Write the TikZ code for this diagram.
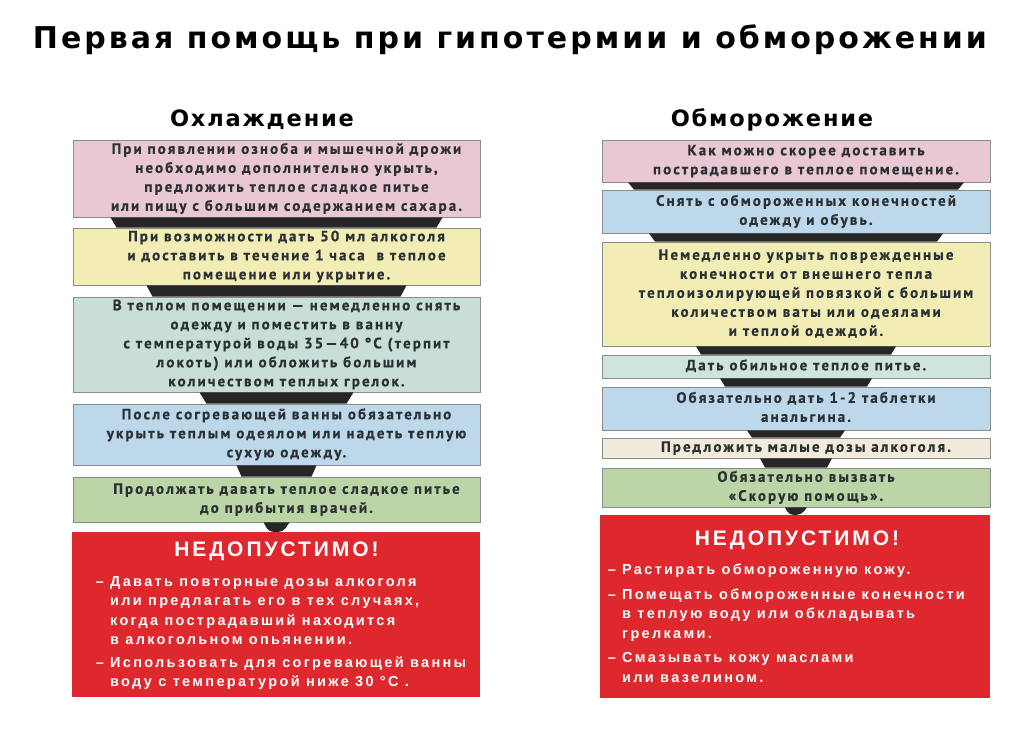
\documentclass[tikz,border=0pt]{standalone}
\usepackage{fontspec}
\setmainfont{PT Sans}
\newfontfamily\titlefont[LetterSpace=10]{DejaVu Sans}
\newfontfamily\headfont[LetterSpace=8]{DejaVu Sans}
\newfontfamily\boxfont[LetterSpace=14,FakeBold=0.6]{PT Sans}
\newfontfamily\redfont[LetterSpace=16]{Liberation Sans}
\newfontfamily\redheadfont[LetterSpace=14]{Liberation Sans}
\usetikzlibrary{calc}
\definecolor{pinkbox}{HTML}{E9C7D4}
\definecolor{yellowbox}{HTML}{F1EDB4}
\definecolor{tealbox}{HTML}{C9DED8}
\definecolor{bluebox}{HTML}{BDD8EA}
\definecolor{greenbox}{HTML}{BCD5A6}
\definecolor{lightteal}{HTML}{CFE3DF}
\definecolor{beigebox}{HTML}{F2EBDC}
\definecolor{redbox}{HTML}{DF282D}
\definecolor{connfill}{HTML}{262626}
\definecolor{bordergray}{HTML}{8C8C8C}
\definecolor{boxtext}{HTML}{2A3033}
\newcommand\boxlines[1]{\hspace*{20pt}\begin{tabular}{@{}c@{}}#1\end{tabular}}
\tikzset{
  stepbox/.style={draw=bordergray, line width=0.8pt, inner sep=0pt,
    text=boxtext, font=\boxfont\bfseries\fontsize{15}{19}\selectfont},
  leftbox/.style={stepbox, minimum width=407pt},
  rightbox/.style={stepbox, minimum width=388pt},
  warnbox/.style={fill=redbox, inner sep=0pt},
  warnhead/.style={text=white, font=\redheadfont\bfseries\fontsize{21}{22}\selectfont, anchor=base},
  warntext/.style={text=white, align=left, anchor=north west, inner sep=0pt,
    font=\redfont\bfseries\fontsize{14.5}{19.5}\selectfont},
  heading/.style={font=\headfont\bfseries\fontsize{22.5}{26}\selectfont, anchor=base},
}
\newcommand\joinboxes[4]{\fill[connfill] ($(#1.south)+(-#3,0)$) -- ($(#1.south)+(#3,0)$) -- ($(#2.north)+(#4,0)$) -- ($(#2.north)+(-#4,0)$) -- cycle;}
\newcommand\joinround[4]{\fill[connfill] ($(#1.south)+(-#3,0)$) -- ($(#1.south)+(#3,0)$) [rounded corners=4pt]-- ($(#2.north)+(#4,0)$) -- ($(#2.north)+(-#4,0)$) [sharp corners]-- cycle;}
\begin{document}
\begin{tikzpicture}[x=1pt,y=-1pt]
\useasboundingbox (0,0) rectangle (1024,731);
\fill[white] (0,0) rectangle (1024,731);
% title
\node[font=\titlefont\bfseries\fontsize{30}{32}\selectfont, anchor=base] (title) at (510,48) {Первая помощь при гипотермии и обморожении};
\node[heading] (hleft) at (262,126) {Охлаждение};
\node[heading] (hright) at (772,126) {Обморожение};
% left column
\node[leftbox, fill=pinkbox, minimum height=77pt] (L1) at (276.5,178.5) {\boxlines{При появлении озноба и мышечной дрожи\\ необходимо дополнительно укрыть,\\ предложить теплое сладкое питье\\ или пищу с большим содержанием сахара.}};
\node[leftbox, fill=yellowbox, minimum height=57pt] (L2) at (276.5,256.5) {\boxlines{При возможности дать 50 мл алкоголя\\ и доставить в течение 1 часа\ \ в теплое\\ помещение или укрытие.}};
\node[leftbox, fill=tealbox, minimum height=95pt] (L3) at (276.5,344.5) {\boxlines{В теплом помещении — немедленно снять\\ одежду и поместить в ванну\\ с температурой воды 35—40 °C (терпит\\ локоть) или обложить большим\\ количеством теплых грелок.}};
\node[leftbox, fill=bluebox, minimum height=61pt] (L4) at (276.5,434.5) {\boxlines{После согревающей ванны обязательно\\ укрыть теплым одеялом или надеть теплую\\ сухую одежду.}};
\node[leftbox, fill=greenbox, minimum height=45pt] (L5) at (276.5,499.5) {\boxlines{Продолжать давать теплое сладкое питье\\ до прибытия врачей.}};
\node[warnbox, minimum width=408pt, minimum height=165pt] (LR) at (276,614.5) {};
\node[warnhead] (LRh) at (276.5,556) {НЕДОПУСТИМО!};
\node[warntext] (LRt) at (110,576) {\llap{– }Давать повторные дозы алкоголя\\ или предлагать его в тех случаях,\\ когда пострадавший находится\\ в алкогольном опьянении.\\[3pt] \llap{– }Использовать для согревающей ванны\\ воду с температурой ниже 30 °C .};
\joinboxes{L1}{L2}{166}{160}
\joinboxes{L2}{L3}{130}{124}
\joinboxes{L3}{L4}{77}{70}
\joinboxes{L4}{L5}{40}{35}
\joinround{L5}{LR}{13}{7}
% right column
\node[rightbox, fill=pinkbox, minimum height=42pt] (R1) at (796,161) {\boxlines{Как можно скорее доставить\\ пострадавшего в теплое помещение.}};
\node[rightbox, fill=bluebox, minimum height=43pt] (R2) at (796,211.5) {\boxlines{Снять с обмороженных конечностей\\ одежду и обувь.}};
\node[rightbox, fill=yellowbox, minimum height=104pt] (R3) at (796,294) {\boxlines{Немедленно укрыть поврежденные\\ конечности от внешнего тепла\\ теплоизолирующей повязкой с большим\\ количеством ваты или одеялами\\ и теплой одеждой.}};
\node[rightbox, fill=lightteal, minimum height=23pt] (R4) at (796,366.5) {\boxlines{Дать обильное теплое питье.}};
\node[rightbox, fill=bluebox, minimum height=43pt] (R5) at (796,408.5) {\boxlines{Обязательно дать 1-2 таблетки\\ анальгина.}};
\node[rightbox, fill=beigebox, minimum height=20pt] (R6) at (796,448) {\boxlines{Предложить малые дозы алкоголя.}};
\node[rightbox, fill=greenbox, minimum height=39pt] (R7) at (796,487.5) {\boxlines{Обязательно вызвать\\ «Скорую помощь».}};
\node[warnbox, minimum width=390pt, minimum height=183pt] (RR) at (795,606.5) {};
\node[warnhead] (RRh) at (797,545) {НЕДОПУСТИМО!};
\node[warntext] (RRt) at (622,564) {\llap{– }Растирать обмороженную кожу.\\[5pt] \llap{– }Помещать обмороженные конечности\\ в теплую воду или обкладывать\\ грелками.\\[5pt] \llap{– }Смазывать кожу маслами\\ или вазелином.};
\joinboxes{R1}{R2}{168}{162}
\joinboxes{R2}{R3}{147}{141}
\joinboxes{R3}{R4}{100}{95}
\joinboxes{R4}{R5}{76}{71}
\joinboxes{R5}{R6}{49}{44}
\joinboxes{R6}{R7}{36}{31}
\joinround{R7}{RR}{11}{6}
\end{tikzpicture}
\end{document}
